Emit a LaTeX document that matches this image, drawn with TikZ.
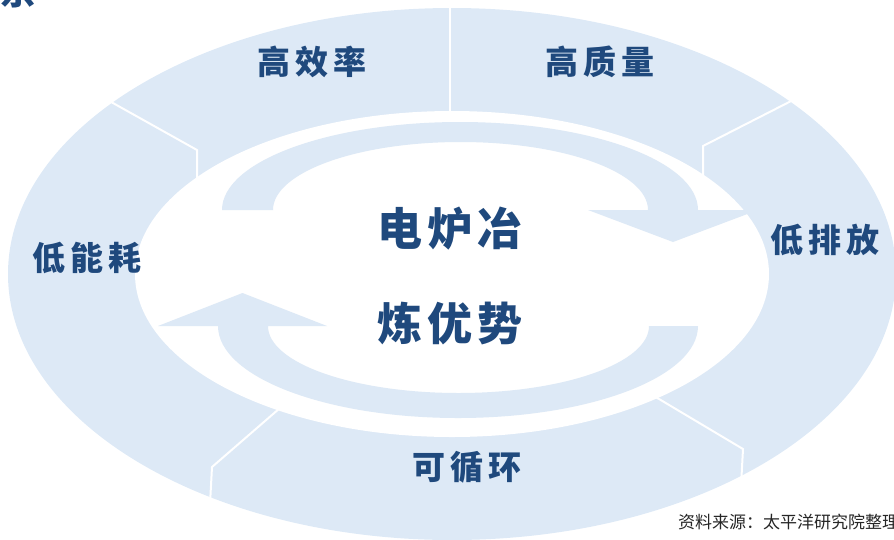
\documentclass[tikz,border=0pt]{standalone}
\usepackage{fontspec}
\newfontfamily\cjk{Noto Sans CJK SC}
\definecolor{ringblue}{RGB}{221,233,246}
\definecolor{txtblue}{RGB}{31,73,125}
\definecolor{srcgray}{RGB}{38,38,38}
\begin{document}
\begin{tikzpicture}[x=1pt,y=-1pt,
  sepline/.style={draw=white,line width=2pt,line join=miter},
  cyclearrow/.style={fill=ringblue},
  lbl/.style={font=\cjk\bfseries\fontsize{33}{33}\selectfont, text=txtblue, inner sep=0pt},
  centertxt/.style={font=\cjk\bfseries\fontsize{45}{45}\selectfont, text=txtblue, inner sep=0pt},
  srctxt/.style={font=\cjk\fontsize{17}{17}\selectfont, text=srcgray, inner sep=0pt, anchor=west}]
\useasboundingbox (0,0) rectangle (894,539);
\clip (0,0) rectangle (894,539);
% ring
\fill[ringblue] (452,274) ellipse [x radius=444pt, y radius=266pt];
\fill[white] (452,274) ellipse [x radius=317pt, y radius=163pt];
% separators
\coordinate (t1) at (450,4);   \coordinate (t2) at (450,112);
\coordinate (a1) at (104,98);  \coordinate (a2) at (197,150); \coordinate (a3) at (197,186);
\coordinate (b1) at (799,97);  \coordinate (b2) at (703,146); \coordinate (b3) at (703,180);
\coordinate (c1) at (280,408); \coordinate (c2) at (212,467); \coordinate (c3) at (210,504);
\coordinate (d1) at (654,396); \coordinate (d2) at (743,449); \coordinate (d3) at (741,486);
\draw[sepline] (t1) -- (t2);
\draw[sepline] (a1) -- (a2) -- (a3);
\draw[sepline] (b1) -- (b2) -- (b3);
\draw[sepline] (c1) -- (c2) -- (c3);
\draw[sepline] (d1) -- (d2) -- (d3);
% upper arrow (clockwise, pointing down at right)
\fill[cyclearrow] (222,210) arc[start angle=180, end angle=0, x radius=238pt, y radius=88pt]
  -- (758,210) -- (673,242) -- (588,210) -- (648,210)
  arc[start angle=0, end angle=180, x radius=187.5pt, y radius=68pt] -- cycle;
% lower arrow (pointing up at left)
\fill[cyclearrow] (698,326) arc[start angle=0, end angle=-180, x radius=240pt, y radius=92pt]
  -- (158,326) -- (242.5,293) -- (327,326) -- (268,326)
  arc[start angle=180, end angle=360, x radius=190.5pt, y radius=67pt] -- cycle;
% texts
\node[centertxt] (c1t) at (450,229) {电\kern5pt 炉\kern5pt 冶};
\node[centertxt] (c2t) at (450,323) {炼\kern5pt 优\kern5pt 势};
\node[lbl] (gxl) at (312,62) {高\kern5pt 效\kern5pt 率};
\node[lbl] (gzl) at (600,62) {高\kern5pt 质\kern5pt 量};
\node[lbl] (dpf) at (825,240) {低\kern5pt 排\kern5pt 放};
\node[lbl] (dnh) at (87,258) {低\kern5pt 能\kern5pt 耗};
\node[lbl] (kxh) at (467,467) {可\kern5pt 循\kern5pt 环};
\node[srctxt] (src) at (678,522) {资料来源：太平洋研究院整理};
\node[font=\cjk\bfseries\fontsize{36}{36}\selectfont, text=txtblue, inner sep=0pt, anchor=base] (frag) at (18,4) {京};
\end{tikzpicture}
\end{document}
